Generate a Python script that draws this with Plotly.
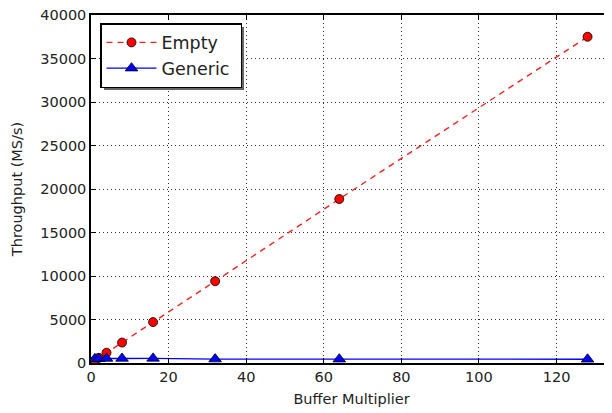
import plotly.graph_objects as go

buffer_multiplier = [1, 2, 4, 8, 16, 32, 64, 128]
empty_throughput = [290, 590, 1180, 2350, 4700, 9400, 18850, 37500]
generic_throughput = [480, 500, 520, 520, 530, 450, 440, 430]

series_names = ["Empty", "Generic"]
x_ticks = [0, 20, 40, 60, 80, 100, 120]
y_ticks = [0, 5000, 10000, 15000, 20000, 25000, 30000, 35000, 40000]

font = "DejaVu Sans"
FS = 14.5

# page body adds an 8px offset; compensate so the plot lands where the reference has it
OFF = 8
W, H = 612 - OFF, 413 - OFF
L, T, R, B = 91 - OFF, 15 - OFF, 0, 50
PW, PH = W - L - R, H - T - B  # plot area size in px


def px_x(x):
    return (x - 91) / PW


def px_y(y):
    return (363 - y) / PH


fig = go.Figure()
fig.add_trace(go.Scatter(
    x=buffer_multiplier, y=empty_throughput, name=series_names[0], mode="lines+markers",
    line=dict(color="#ff2020", width=1.4, dash="6px,5px"),
    marker=dict(symbol="circle", size=9, color="#ff0000", line=dict(color="black", width=0.8)),
))
fig.add_trace(go.Scatter(
    x=buffer_multiplier, y=generic_throughput, name=series_names[1] + "\u00a0", mode="lines+markers",
    line=dict(color="#0000ff", width=1.3),
    marker=dict(symbol="triangle-up", size=11, color="#0000ff", line=dict(color="black", width=0.8)),
))

axis_common = dict(
    showline=True, linecolor="black", linewidth=1.5,
    ticks="inside", ticklen=5, tickcolor="black",
    showgrid=True, gridcolor="#333333", griddash="1px,3px", gridwidth=1,
    zeroline=False, tickfont=dict(family=font, size=FS, color="#222222"),
    tickformat="d", ticklabeloverflow="allow",
)

fig.update_xaxes(range=[0, 134.3], tickvals=x_ticks, mirror="ticks",
                 title=dict(text="Buffer Multiplier", font=dict(family=font, size=FS, color="#222222"), standoff=10),
                 **axis_common)
fig.update_yaxes(range=[0, 40000], tickvals=y_ticks, mirror=False,
                 title=dict(text="Throughput (MS/s)", font=dict(family=font, size=FS, color="#222222"), standoff=14),
                 **axis_common)

# legend shadow
fig.add_shape(type="rect", xref="paper", yref="paper",
              x0=px_x(104), x1=px_x(244),
              y0=px_y(90), y1=px_y(27),
              fillcolor="#666666", line=dict(width=0), layer="above")

fig.update_layout(
    width=W, height=H,
    margin=dict(l=L, r=R, t=T, b=B, autoexpand=False),
    paper_bgcolor="white", plot_bgcolor="white",
    font=dict(family=font, size=FS, color="#222222"),
    legend=dict(x=px_x(100), y=px_y(23), xanchor="left", yanchor="top",
                bgcolor="white", bordercolor="black", borderwidth=1.5,
                font=dict(family=font, size=17.5, color="#222222"),
                itemwidth=50, tracegroupgap=0),
    showlegend=True,
)

fig.write_html("out.html")
